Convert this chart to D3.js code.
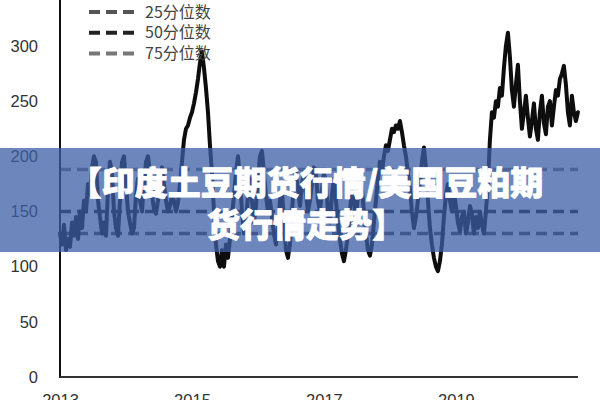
<!DOCTYPE html>
<html><head><meta charset="utf-8">
<script src="https://cdn.jsdelivr.net/npm/d3@7"></script>
<style>body{margin:0;background:#fff}svg{display:block}</style>
</head><body>
<svg id="c" width="600" height="400"></svg>
<script>
// ---- data ----
const startYear = 2013;          // first sample
const sampleStep = 1 / 33;       // ~11 days between samples
const priceValues = [
 130,120,138,115,125,118,140,128,145,125,150,135,160,150,175,165,190,200,195,160,
 145,130,140,128,170,195,185,150,135,128,160,195,200,175,150,140,130,135,165,180,
 160,150,175,195,200,185,165,152,148,160,180,190,175,160,150,155,165,160,150,158,
 175,195,215,225,228,235,240,248,258,270,285,295,280,262,240,210,185,150,120,105,
 100,115,100,120,108,125,145,165,185,200,180,150,130,140,165,180,160,140,155,180,
 200,205,185,165,150,160,145,130,120,135,160,170,140,115,108,120,150,175,185,170,
 155,175,185,165,150,160,175,190,185,160,150,170,185,175,150,140,165,180,160,140,
 125,112,105,115,130,150,170,160,145,165,185,170,150,130,115,110,120,140,
 160,180,195,185,200,210,205,215,225,222,228,225,232,222,210,200,185,170,150,135,
 145,160,175,195,208,190,160,135,120,108,100,96,105,120,
 145,165,175,160,150,168,155,140,132,145,150,130,140,155,148,130,145,135,150,138,
 130,150,175,215,240,235,250,245,262,255,280,300,312,290,260,245,265,283,250,225,
 240,255,235,218,232,248,225,215,240,255,230,220,245,250,228,245,260,255,270,275,
 282,265,240,228,255,240,232,240
];
const percentileNames = ["25分位数", "50分位数", "75分位数"];
const percentileValues = [130, 150, 188];
const yTicks = [0, 50, 100, 150, 200, 250, 300];
const xTicks = [2013, 2015, 2017, 2019];
const titleLines = ["【印度土豆期货行情/美国豆粕期", "货行情走势】"];

// ---- chart ----
const svg = d3.select("#c");
const x = d3.scaleLinear().domain([2013, 2020.85]).range([60, 578]);
const y = d3.scaleLinear().domain([0, 300]).range([377, 46]);
const font = "'Liberation Sans', Arial, sans-serif";

const series = priceValues.map((v, i) => ({t: startYear + i * sampleStep, v}));

// percentile dashed lines
const pctColors = ["#4a4a4a", "#1e1e1e", "#777777"];
svg.selectAll("line.pct").data(percentileValues).join("line")
  .attr("class", "pct")
  .attr("x1", x(2013)).attr("x2", x(2020.85))
  .attr("y1", d => y(d)).attr("y2", d => y(d))
  .attr("stroke", (d, i) => pctColors[i]).attr("stroke-width", 3.5)
  .attr("stroke-dasharray", "11,6");

// price line
svg.append("path").datum(series)
  .attr("fill", "none").attr("stroke", "#0d0d0d").attr("stroke-width", 4)
  .attr("stroke-linejoin", "round").attr("stroke-linecap", "round")
  .attr("d", d3.line().x(d => x(d.t)).y(d => y(d.v)));

// y axis
const yAxis = svg.append("g").attr("transform", `translate(${x(2013)},0)`)
  .call(d3.axisLeft(y).tickValues(yTicks).tickSize(0).tickPadding(22).tickFormat(d3.format("d")));
yAxis.select(".domain").remove();
yAxis.selectAll("text").attr("font-size", 16.5).attr("font-family", font).attr("fill", "#333");
svg.append("line").attr("x1", x(2013)).attr("x2", x(2013)).attr("y1", 0).attr("y2", y(0) + 1)
  .attr("stroke", "#111").attr("stroke-width", 2);

// x axis
const xAxis = svg.append("g").attr("transform", `translate(0,${y(0)})`)
  .call(d3.axisBottom(x).tickValues(xTicks).tickSize(0).tickPadding(17).tickFormat(d3.format("d")));
xAxis.select(".domain").remove();
xAxis.selectAll("text").attr("font-size", 16.5).attr("font-family", font).attr("fill", "#333");
svg.append("line").attr("x1", x(2013)).attr("x2", x(2020.85)).attr("y1", y(0)).attr("y2", y(0))
  .attr("stroke", "#333").attr("stroke-width", 2);

// legend
const leg = svg.append("g");
const legColors = ["#555", "#222", "#777"];
percentileNames.forEach((name, i) => {
  const ly = 12 + i * 20.7;
  leg.append("line").attr("x1", 89).attr("x2", 135).attr("y1", ly).attr("y2", ly)
    .attr("stroke", legColors[i]).attr("stroke-width", 4).attr("stroke-dasharray", "11,6");
  leg.append("text").attr("x", 145).attr("y", ly).attr("dy", "0.35em")
    .attr("font-size", 16).attr("font-family", "'Noto Sans CJK SC', sans-serif")
    .attr("fill", "#444").text(name);
});

// banner overlay
svg.append("rect").attr("x", 0).attr("y", 148).attr("width", 600).attr("height", 104)
  .attr("fill", "rgb(60,95,165)").attr("fill-opacity", 0.75);
titleLines.forEach((t, i) => {
  svg.append("text").attr("x", 306).attr("y", 195 + i * 42).attr("text-anchor", "middle")
    .attr("font-size", 33).attr("font-weight", 900)
    .attr("font-family", "'Noto Sans CJK SC', sans-serif")
    .attr("fill", "#fff").attr("stroke", "#fff").attr("stroke-width", 0.8)
    .attr("stroke-linejoin", "round")
    .text(t);
});
</script>
</body></html>
